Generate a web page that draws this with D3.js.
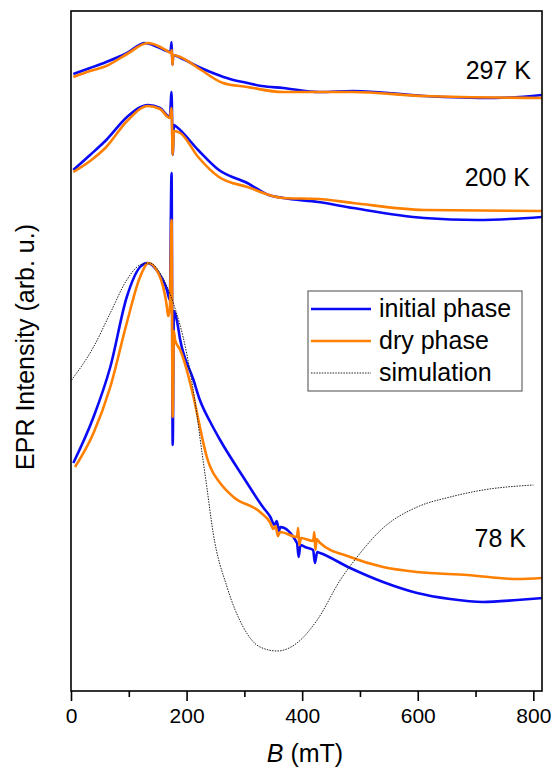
<!DOCTYPE html>
<html>
<head>
<meta charset="utf-8">
<script src="https://cdn.jsdelivr.net/npm/d3@7"></script>
<style>
html,body{margin:0;padding:0;background:#fff;}
svg text{font-family:"Liberation Sans",Arial,sans-serif;fill:#000;}
</style>
</head>
<body>
<svg id="chart" width="552" height="768"></svg>
<script>
// Field axis ticks (mT)
const majorTicks = [0, 200, 400, 600, 800];
const minorTicks = [100, 300, 500, 700];
// Series: [B (mT), EPR intensity (arb. u., stacked)]
const initial297 = [[4,617],[33,623],[61,629],[97,638],[128,648],[150,644],[166,640],[172,639],[174,649],[175.5,626],[177,636],[190,633],[225,623],[250,617],[275,612],[305,608],[330,605],[367,603],[430,599],[488,600],[611,595],[734,593],[815,596]];
const dry297 = [[4,614],[33,620],[61,625],[97,637],[133,648],[151,645],[164,641],[173,638],[174.5,641],[175.5,626],[177,636],[189,634],[225,621],[263,608],[305,604],[367,599],[488,599],[611,595],[815,593]];
const initial200 = [[4,521],[33,536],[61,551],[97,574],[133,586],[154,583],[171,574],[174,599],[176,536],[178,566],[183,564],[220,541],[256,521],[305,508],[342,496],[367,493],[428,489],[488,483],[611,473],[703,471],[815,474]];
const dry200 = [[4,519],[33,530],[61,544],[97,570],[133,585],[154,582],[171,573],[174,583],[176,536],[178,560],[189,558],[220,534],[256,514],[305,504],[367,493],[428,492],[488,488],[611,481],[815,480]];
const initial78 = [[4,228],[39,274],[68,324],[96.5,394],[119.5,424],[132,428],[148,421],[166,401],[171,391],[174,518],[176,246],[178,380],[183,371],[189,351],[212,311],[223,291],[241,269],[258,251],[298,214],[332,184],[345,174],[352,166],[356,170],[360,160],[362,164],[391,148],[394,134],[397,146],[405,144],[419,141],[422,128],[426,139],[431,138],[483,123],[540,109],[599,98],[656,92],[713,89],[772,91],[815,93]];
const dry78 = [[7,224],[39,258],[68,304],[96.5,368],[119.5,414],[134,428],[151,418],[166,384],[168,375],[171,381],[174,471],[176,274],[178,360],[180,351],[189,341],[212,294],[223,264],[235,234],[241,224],[258,208],[281,194],[327,179],[345,168],[350,162],[354,165],[358,155],[362,159],[391,154],[393,163],[395,146],[398,153],[419,150],[421,159],[423,141],[425,152],[431,148],[483,134],[540,124],[599,119],[686,116],[772,112],[815,113]];
const simulation78 = [[1,311],[39,344],[68,378],[96.5,411],[119.5,426],[137,428],[154,418],[177,388],[200,338],[218,276],[223,254],[235,204],[246,158],[270,104],[298,64],[327,44],[357,40],[391,48],[426,71],[466,111],[495,134],[540,163],[599,184],[656,194],[713,201],[800,206]];
const tempLabels = ["297 K", "200 K", "78 K"];
const tempLabelPos = [[815, 603], [815, 493], [815, 128]];
const legendLabels = ["initial phase", "dry phase", "simulation"];

const BLUE = "#0a0af5", ORANGE = "#ff8000";
const L = 71, R = 542, T = 11, Bm = 691;
const svg = d3.select("#chart");
const x = d3.scaleLinear().domain([0, 815]).range([L, R]);
const y = d3.scaleLinear().domain([0, 680]).range([Bm, T]);

svg.append("clipPath").attr("id","clip").append("rect")
  .attr("x", L).attr("y", T).attr("width", R - L).attr("height", Bm - T);

const line = d3.line().x(d => x(d[0])).y(d => y(d[1])).curve(d3.curveMonotoneX);
const g = svg.append("g").attr("clip-path", "url(#clip)");
[[initial297, BLUE],[dry297, ORANGE],[initial200, BLUE],[dry200, ORANGE],[initial78, BLUE],[dry78, ORANGE]].forEach(([d, c]) => {
  g.append("path").datum(d).attr("d", line).attr("fill","none").attr("stroke", c)
    .attr("stroke-width", 2.6).attr("stroke-linejoin","round");
});
g.append("path").datum(simulation78).attr("d", line).attr("fill","none")
  .attr("stroke","#222").attr("stroke-width",1).attr("stroke-dasharray","1.5,1.2");

// frame
svg.append("rect").attr("x", L).attr("y", T).attr("width", R - L).attr("height", Bm - T)
  .attr("fill","none").attr("stroke","#000").attr("stroke-width",1.6);

// x axis
const ax = svg.append("g").attr("transform", `translate(0,${Bm})`)
  .call(d3.axisBottom(x).tickValues(majorTicks).tickSize(10).tickPadding(7).tickFormat(d3.format("d")));
ax.select(".domain").remove();
ax.selectAll(".tick line").attr("stroke","#000").attr("stroke-width",1.6);
ax.selectAll(".tick text").attr("font-size", 21).attr("font-family","Liberation Sans, Arial, sans-serif").attr("fill","#000");
svg.append("g").attr("transform", `translate(0,${Bm})`)
  .call(d3.axisBottom(x).tickValues(minorTicks).tickSize(6).tickFormat(""))
  .call(s => s.select(".domain").remove())
  .selectAll(".tick line").attr("stroke","#000").attr("stroke-width",1.6);

// axis titles
const xt = svg.append("text").attr("x", 305).attr("y", 762).attr("text-anchor","middle").attr("font-size",25);
xt.append("tspan").attr("font-style","italic").text("B");
xt.append("tspan").text(" (mT)");
svg.append("text").attr("transform","translate(34,347) rotate(-90)").attr("text-anchor","middle")
  .attr("font-size",25).text("EPR Intensity (arb. u.)");

// temperature labels
const labelDx = [-11, -12, -16], labelDy = [-9, -12, -16];
tempLabels.forEach((t, i) => {
  svg.append("text").attr("x", x(tempLabelPos[i][0]) + labelDx[i]).attr("y", y(tempLabelPos[i][1]) + labelDy[i])
    .attr("text-anchor","end").attr("font-size",25).text(t);
});

// legend
const lg = svg.append("g");
lg.append("rect").attr("x",308).attr("y",291).attr("width",214).attr("height",100)
  .attr("fill","#fff").attr("stroke","#666").attr("stroke-width",1.2);
const legStyles = [[BLUE, 2.6, null],[ORANGE, 2.6, null],["#222", 1, "1.5,1.2"]];
legendLabels.forEach((t, i) => {
  const cy = 309 + i * 32;
  const ln = lg.append("line").attr("x1",311).attr("x2",371).attr("y1",cy).attr("y2",cy)
    .attr("stroke", legStyles[i][0]).attr("stroke-width", legStyles[i][1]);
  if (legStyles[i][2]) ln.attr("stroke-dasharray", legStyles[i][2]);
  lg.append("text").attr("x",379).attr("y",cy + 8).attr("font-size",25).text(t);
});
</script>
</body>
</html>
